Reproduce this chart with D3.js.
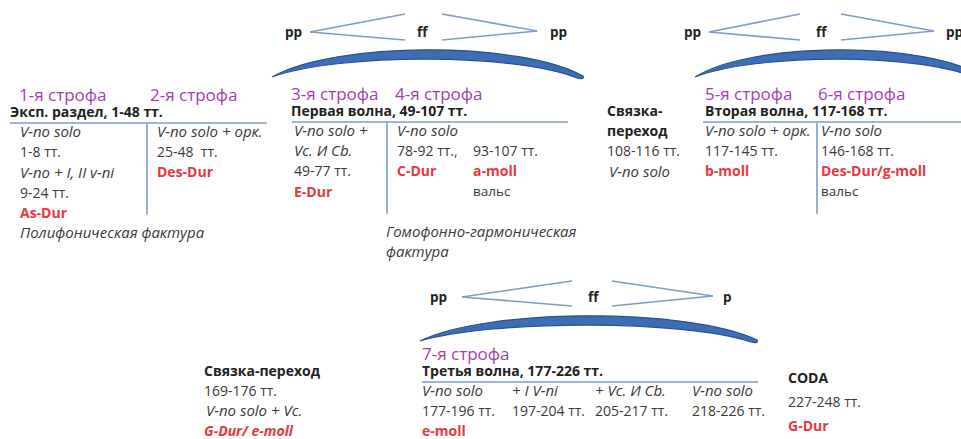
<!DOCTYPE html>
<html>
<head>
<meta charset="utf-8">
<script src="https://cdn.jsdelivr.net/npm/d3@7"></script>
<style>
  body { margin: 0; background: #fff; }
  text { font-family: "Open Sans", "Noto Sans", sans-serif; white-space: pre; }
</style>
</head>
<body>
<div id="chart"></div>
<script>
// dynamics over each wave: start, peak, end
var dynamics = [["pp", "ff", "pp"], ["pp", "ff", "pp"], ["pp", "ff", "p"]];

var strophes = [
  ["1-я строфа", "2-я строфа"],
  ["3-я строфа", "4-я строфа"],
  ["5-я строфа", "6-я строфа"],
  ["7-я строфа"]
];

var sections = [
  "Эксп. раздел, 1-48 тт.",
  "Первая волна, 49-107 тт.",
  "Вторая волна, 117-168 тт.",
  "Третья волна, 177-226 тт."
];

// i = instruments, b = bars, k = key, t = remark
var columns = [
  [
    [["i", "V-no solo"], ["b", "1-8 тт."], ["i", "V-no + I, II v-ni"], ["b", "9-24 тт."], ["k", "As-Dur"]],
    [["i", "V-no solo + орк."], ["b", "25-48  тт."], ["k", "Des-Dur"]]
  ],
  [
    [["i", "V-no solo +"], ["i", "Vc. И Cb."], ["b", "49-77 тт."], ["k", "E-Dur"]],
    [["i", "V-no solo"], ["b", "78-92 тт.,"], ["k", "C-Dur"]],
    [["", ""], ["b", "93-107 тт."], ["k", "a-moll"], ["t", "вальс"]]
  ],
  [
    [["i", "V-no solo + орк."], ["b", "117-145 тт."], ["k", "b-moll"]],
    [["i", "V-no solo"], ["b", "146-168 тт."], ["k", "Des-Dur/g-moll"], ["t", "вальс"]]
  ],
  [
    [["i", "V-no solo"], ["b", "177-196 тт."], ["k", "e-moll"]],
    [["i", "+ I V-ni"], ["b", "197-204 тт."]],
    [["i", "+ Vc. И Cb."], ["b", "205-217 тт."]],
    [["i", "V-no solo"], ["b", "218-226 тт."]]
  ]
];

var textures = [["Полифоническая фактура"], ["Гомофонно-гармоническая", "фактура"]];

var links = [
  [["h", "Связка-"], ["h", "переход"], ["b", "108-116 тт."], ["i", "V-no solo"]],
  [["h", "Связка-переход"], ["b", "169-176 тт."], ["i", "V-no solo + Vc."], ["ki", "G-Dur/ e-moll"]],
  [["h", "CODA"], ["b", "227-248 тт."], ["k", "G-Dur"]]
];

var width = 961, height = 439;

// ---- layout ----
var blocks = [
  {top: 96,  line: [10, 267],  div: 147,  headX: 10,  strX: [19, 150],  colX: [20, 157]},
  {top: 95,  line: [292, 568], div: 387,  headX: 291, strX: [291, 395], colX: [294, 397, 473]},
  {top: 95,  line: [703, 961], div: 817,  headX: 705, strX: [705, 818], colX: [705, 821]},
  {top: 355, line: [422, 758], div: null, headX: 422, strX: [422],      colX: [422, 512, 595, 692]}
];
var textureAt = [{block: 0, x: 20, row: 5}, {block: 1, x: 386, row: 5}];
var linkAt = [{block: 2, x: 607, row: -1}, {block: 3, x: 204, row: -1}, {x: 788, y0: 378, step: 24}];

var waves = [
  {y: 32,  pp: 285, tip: 310, cEnd: 405, top: 14,  bot: 40,  ff: 417, dStart: 442, dTip: 537, end: 550,
   arc: [272, 583], arcEnd: 77, arcTop: 50},
  {y: 32,  pp: 684, tip: 709, cEnd: 800, top: 14,  bot: 40,  ff: 816, dStart: 841, dTip: 934, end: 946,
   arc: [695, 982], arcEnd: 77, arcTop: 50},
  {y: 297, pp: 430, tip: 462, cEnd: 572, top: 281, bot: 306, ff: 588, dStart: 612, dTip: 713, end: 723,
   arc: [420, 757], arcEnd: 341, arcTop: 316}
];

var styles = {
  i:  {style: "italic", weight: 400, fill: "#3a3a3a", size: 15},
  b:  {style: "normal", weight: 400, fill: "#3a3a3a", size: 14},
  k:  {style: "normal", weight: 700, fill: "#e8373e", size: 14},
  ki: {style: "italic", weight: 700, fill: "#e8373e", size: 14},
  t:  {style: "normal", weight: 400, fill: "#3a3a3a", size: 13.5},
  h:  {style: "normal", weight: 700, fill: "#222",    size: 14}
};

var svg = d3.select("#chart").append("svg")
  .attr("width", width)
  .attr("height", height);

function rows(b) {
  // row 0 is the first line under the rule
  return d3.scaleLinear().domain([0, 1]).range([b.top + 36, b.top + 56.2]);
}

function put(x, y, kind, str) {
  var s = styles[kind] || styles.b;
  svg.append("text")
    .attr("x", x).attr("y", y).attr("dy", "0.35em")
    .attr("font-size", s.size)
    .attr("font-style", s.style)
    .attr("font-weight", s.weight)
    .attr("fill", s.fill)
    .text(str);
}

// ---- waves: hairpins + arcs ----
var hairColor = "#7f9cc6";
waves.forEach(function (w, i) {
  var dyn = dynamics[i];
  [[w.pp, dyn[0]], [w.ff, dyn[1]], [w.end, dyn[2]]].forEach(function (d) {
    svg.append("text")
      .attr("x", d[0]).attr("y", w.y).attr("dy", "0.35em")
      .attr("font-size", 13.5).attr("font-weight", 700).attr("fill", "#222")
      .text(d[1]);
  });
  var lines = [
    [w.tip, w.y, w.cEnd, w.top], [w.tip, w.y, w.cEnd, w.bot],
    [w.dStart, w.top, w.dTip, w.y - 1], [w.dStart, w.bot, w.dTip, w.y - 1]
  ];
  svg.selectAll(null).data(lines).enter().append("line")
    .attr("x1", function (d) { return d[0]; })
    .attr("y1", function (d) { return d[1]; })
    .attr("x2", function (d) { return d[2]; })
    .attr("y2", function (d) { return d[3]; })
    .attr("stroke", hairColor).attr("stroke-width", 1.6);

  // crescent-shaped arc
  var x0 = w.arc[0], x1 = w.arc[1], wd = x1 - x0, ye = w.arcEnd;
  var cOut = (8 * w.arcTop - 2 * ye) / 6;
  var cIn = (8 * (w.arcTop + 9) - 2 * ye) / 6;
  var p = d3.path();
  p.moveTo(x0, ye);
  p.bezierCurveTo(x0 + 0.2 * wd, cOut, x1 - 0.2 * wd, cOut, x1, ye - 1);
  p.quadraticCurveTo(x1 + 2, ye + 3, x1 - 6, ye + 1);
  p.bezierCurveTo(x1 - 0.22 * wd, cIn, x0 + 0.22 * wd, cIn, x0, ye);
  p.closePath();
  svg.append("path")
    .attr("d", p.toString())
    .attr("fill", "#3d6db5")
    .attr("stroke", "#2a5290")
    .attr("stroke-width", 1.2);
});

// ---- sections ----
blocks.forEach(function (b, i) {
  var ry = rows(b);
  strophes[i].forEach(function (s, j) {
    svg.append("text")
      .attr("x", b.strX[j]).attr("y", b.top - 1).attr("dy", "0.35em")
      .attr("font-size", 17).attr("fill", "#a13fae")
      .text(s);
  });
  put(b.headX, b.top + 16, "h", sections[i]);
  svg.append("line")
    .attr("x1", b.line[0]).attr("x2", b.line[1])
    .attr("y1", b.top + 27).attr("y2", b.top + 27)
    .attr("stroke", "#7f9cc6").attr("stroke-width", 1.6);
  if (b.div !== null) {
    svg.append("line")
      .attr("x1", b.div).attr("x2", b.div)
      .attr("y1", b.top + 27).attr("y2", ry(4) + 2)
      .attr("stroke", "#7f9cc6").attr("stroke-width", 1.6);
  }
  columns[i].forEach(function (col, j) {
    col.forEach(function (c, r) {
      if (c[1]) put(b.colX[j], ry(r), c[0], c[1]);
    });
  });
});

textureAt.forEach(function (t, i) {
  var ry = rows(blocks[t.block]);
  textures[i].forEach(function (s, r) {
    put(t.x, ry(t.row + r), "i", s);
  });
});

linkAt.forEach(function (l, i) {
  var ry = l.block !== undefined ? rows(blocks[l.block])
    : d3.scaleLinear().domain([0, 1]).range([l.y0, l.y0 + l.step]);
  var r0 = l.block !== undefined ? l.row : 0;
  links[i].forEach(function (c, r) {
    var x = (c[0] === "i") ? l.x + 2 : l.x;
    put(x, ry(r0 + r), c[0], c[1]);
  });
});
</script>
</body>
</html>
